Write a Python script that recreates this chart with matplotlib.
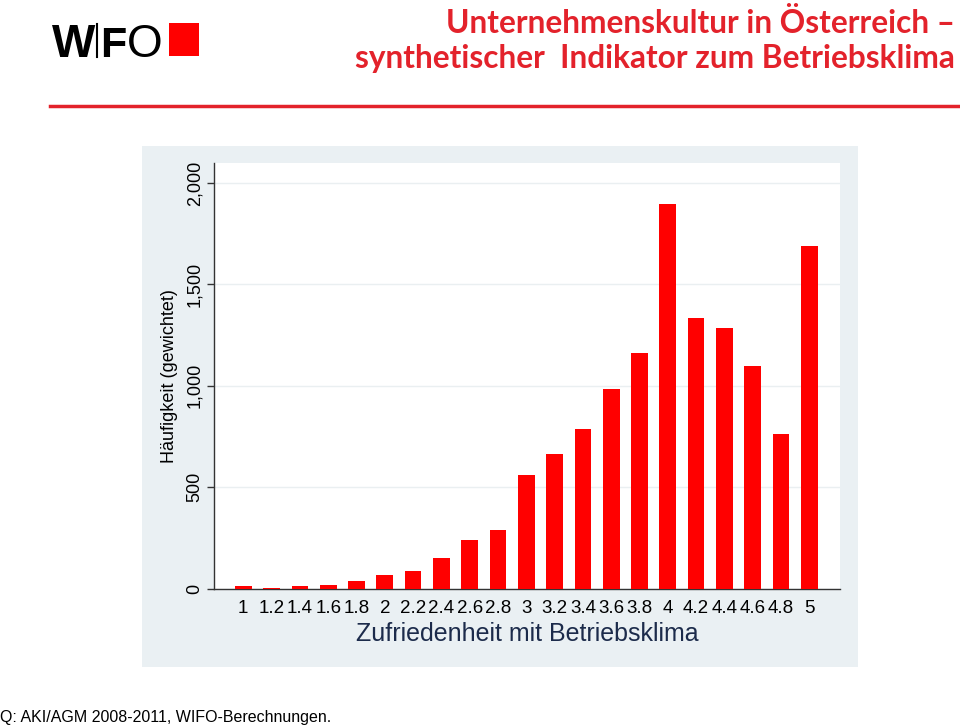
import matplotlib
matplotlib.use("Agg")
import matplotlib.pyplot as plt
from matplotlib.patches import Rectangle
from matplotlib.lines import Line2D
from matplotlib.ticker import FuncFormatter

# ---- data ----
categories = [1.0, 1.2, 1.4, 1.6, 1.8, 2.0, 2.2, 2.4, 2.6, 2.8, 3.0,
              3.2, 3.4, 3.6, 3.8, 4.0, 4.2, 4.4, 4.6, 4.8, 5.0]
tick_labels = ["1", "1.2", "1.4", "1.6", "1.8", "2", "2.2", "2.4", "2.6", "2.8", "3",
               "3.2", "3.4", "3.6", "3.8", "4", "4.2", "4.4", "4.6", "4.8", "5"]
frequency = [10, 3, 10, 18, 35, 66, 84, 148, 240, 288, 560,
             662, 785, 985, 1163, 1896, 1332, 1283, 1099, 763, 1689]
y_ticks = [0, 500, 1000, 1500, 2000]

title_line1 = "Unternehmenskultur in Österreich –"
title_line2 = "synthetischer  Indikator zum Betriebsklima"
x_title = "Zufriedenheit mit Betriebsklima"
y_title = "Häufigkeit (gewichtet)"
source = "Q: AKI/AGM 2008-2011, WIFO-Berechnungen."

W, H = 960, 728
RED = "#ff0000"
TITLE_RED = "#e3222b"
PANEL = "#eaf0f3"

plt.rcParams['font.family'] = ['Liberation Sans', 'DejaVu Sans']
fig = plt.figure(figsize=(9.6, 7.28), dpi=100)

def fx(px):
    return px / W

def fy(py):
    return 1 - py / H

# grey graph region
fig.patches.append(Rectangle((fx(142), fy(667)), fx(858) - fx(142), fy(146) - fy(667),
                             transform=fig.transFigure, facecolor=PANEL, edgecolor='none',
                             zorder=-10))

ax = fig.add_axes([fx(214), fy(588.5), fx(840) - fx(214), fy(163) - fy(588.5)])
ax.set_zorder(5)
ax.set_facecolor('white')
ax.bar(categories, frequency, width=0.118, color=RED, zorder=3)
ax.set_xlim(0.793, 5.217)
ax.set_ylim(0, 2098)
ax.set_yticks(y_ticks)
ax.yaxis.set_major_formatter(FuncFormatter(lambda v, p: f"{int(v):,}"))
ax.set_xticks(categories)
ax.set_xticklabels(tick_labels)
ax.tick_params(axis='x', length=0, labelsize=13.5, pad=8, colors='black')
ax.tick_params(axis='y', length=5, width=1, labelsize=13, pad=2.5, colors='#333333',
               labelcolor='black')
for lab in ax.get_yticklabels():
    lab.set_rotation(90)
    lab.set_va('center')
ax.grid(axis='y', color='#eaeff1', linewidth=1, zorder=0)
ax.set_axisbelow(True)
for s in ['top', 'right']:
    ax.spines[s].set_visible(False)
ax.spines['left'].set_color('#333333')
ax.spines['bottom'].set_color('#333333')
ax.spines['left'].set_linewidth(1)
ax.spines['bottom'].set_linewidth(1)
ax.set_xlabel(x_title, fontsize=18, color='#1c2b4b', labelpad=4)
ax.set_ylabel(y_title, fontsize=13, color='black', labelpad=6)

# titles
fig.text(fx(955), fy(33), title_line1, ha='right', va='baseline', fontsize=22.8,
         fontweight='bold', color=TITLE_RED, family='Lato')
fig.text(fx(955), fy(68), title_line2, ha='right', va='baseline', fontsize=22.8,
         fontweight='bold', color=TITLE_RED, family='Lato')

# red rule
fig.add_artist(Line2D([fx(50), fx(958)], [fy(106), fy(106)], transform=fig.transFigure,
                      color=TITLE_RED, linewidth=2.5))

# WIFO logo
fig.text(fx(52), fy(57), "W", ha='left', va='baseline', fontsize=33, fontweight='bold',
         color='black', family='Liberation Sans')
fig.add_artist(Line2D([fx(97), fx(97)], [fy(57), fy(24)], transform=fig.transFigure,
                      color='black', linewidth=1.5))
fig.text(fx(100), fy(57), "F", ha='left', va='baseline', fontsize=31, fontweight='bold',
         color='black', family='Liberation Sans')
fig.text(fx(127), fy(57), "O", ha='left', va='baseline', fontsize=33, fontweight='normal',
         color='black', family='Liberation Sans')
fig.patches.append(Rectangle((fx(169), fy(56)), fx(199) - fx(169), fy(23) - fy(56),
                             transform=fig.transFigure, facecolor=RED, edgecolor='none'))

# source
fig.text(fx(0), fy(722), source, ha='left', va='baseline', fontsize=11.5, color='black')

fig.savefig("out.png", dpi=100)
